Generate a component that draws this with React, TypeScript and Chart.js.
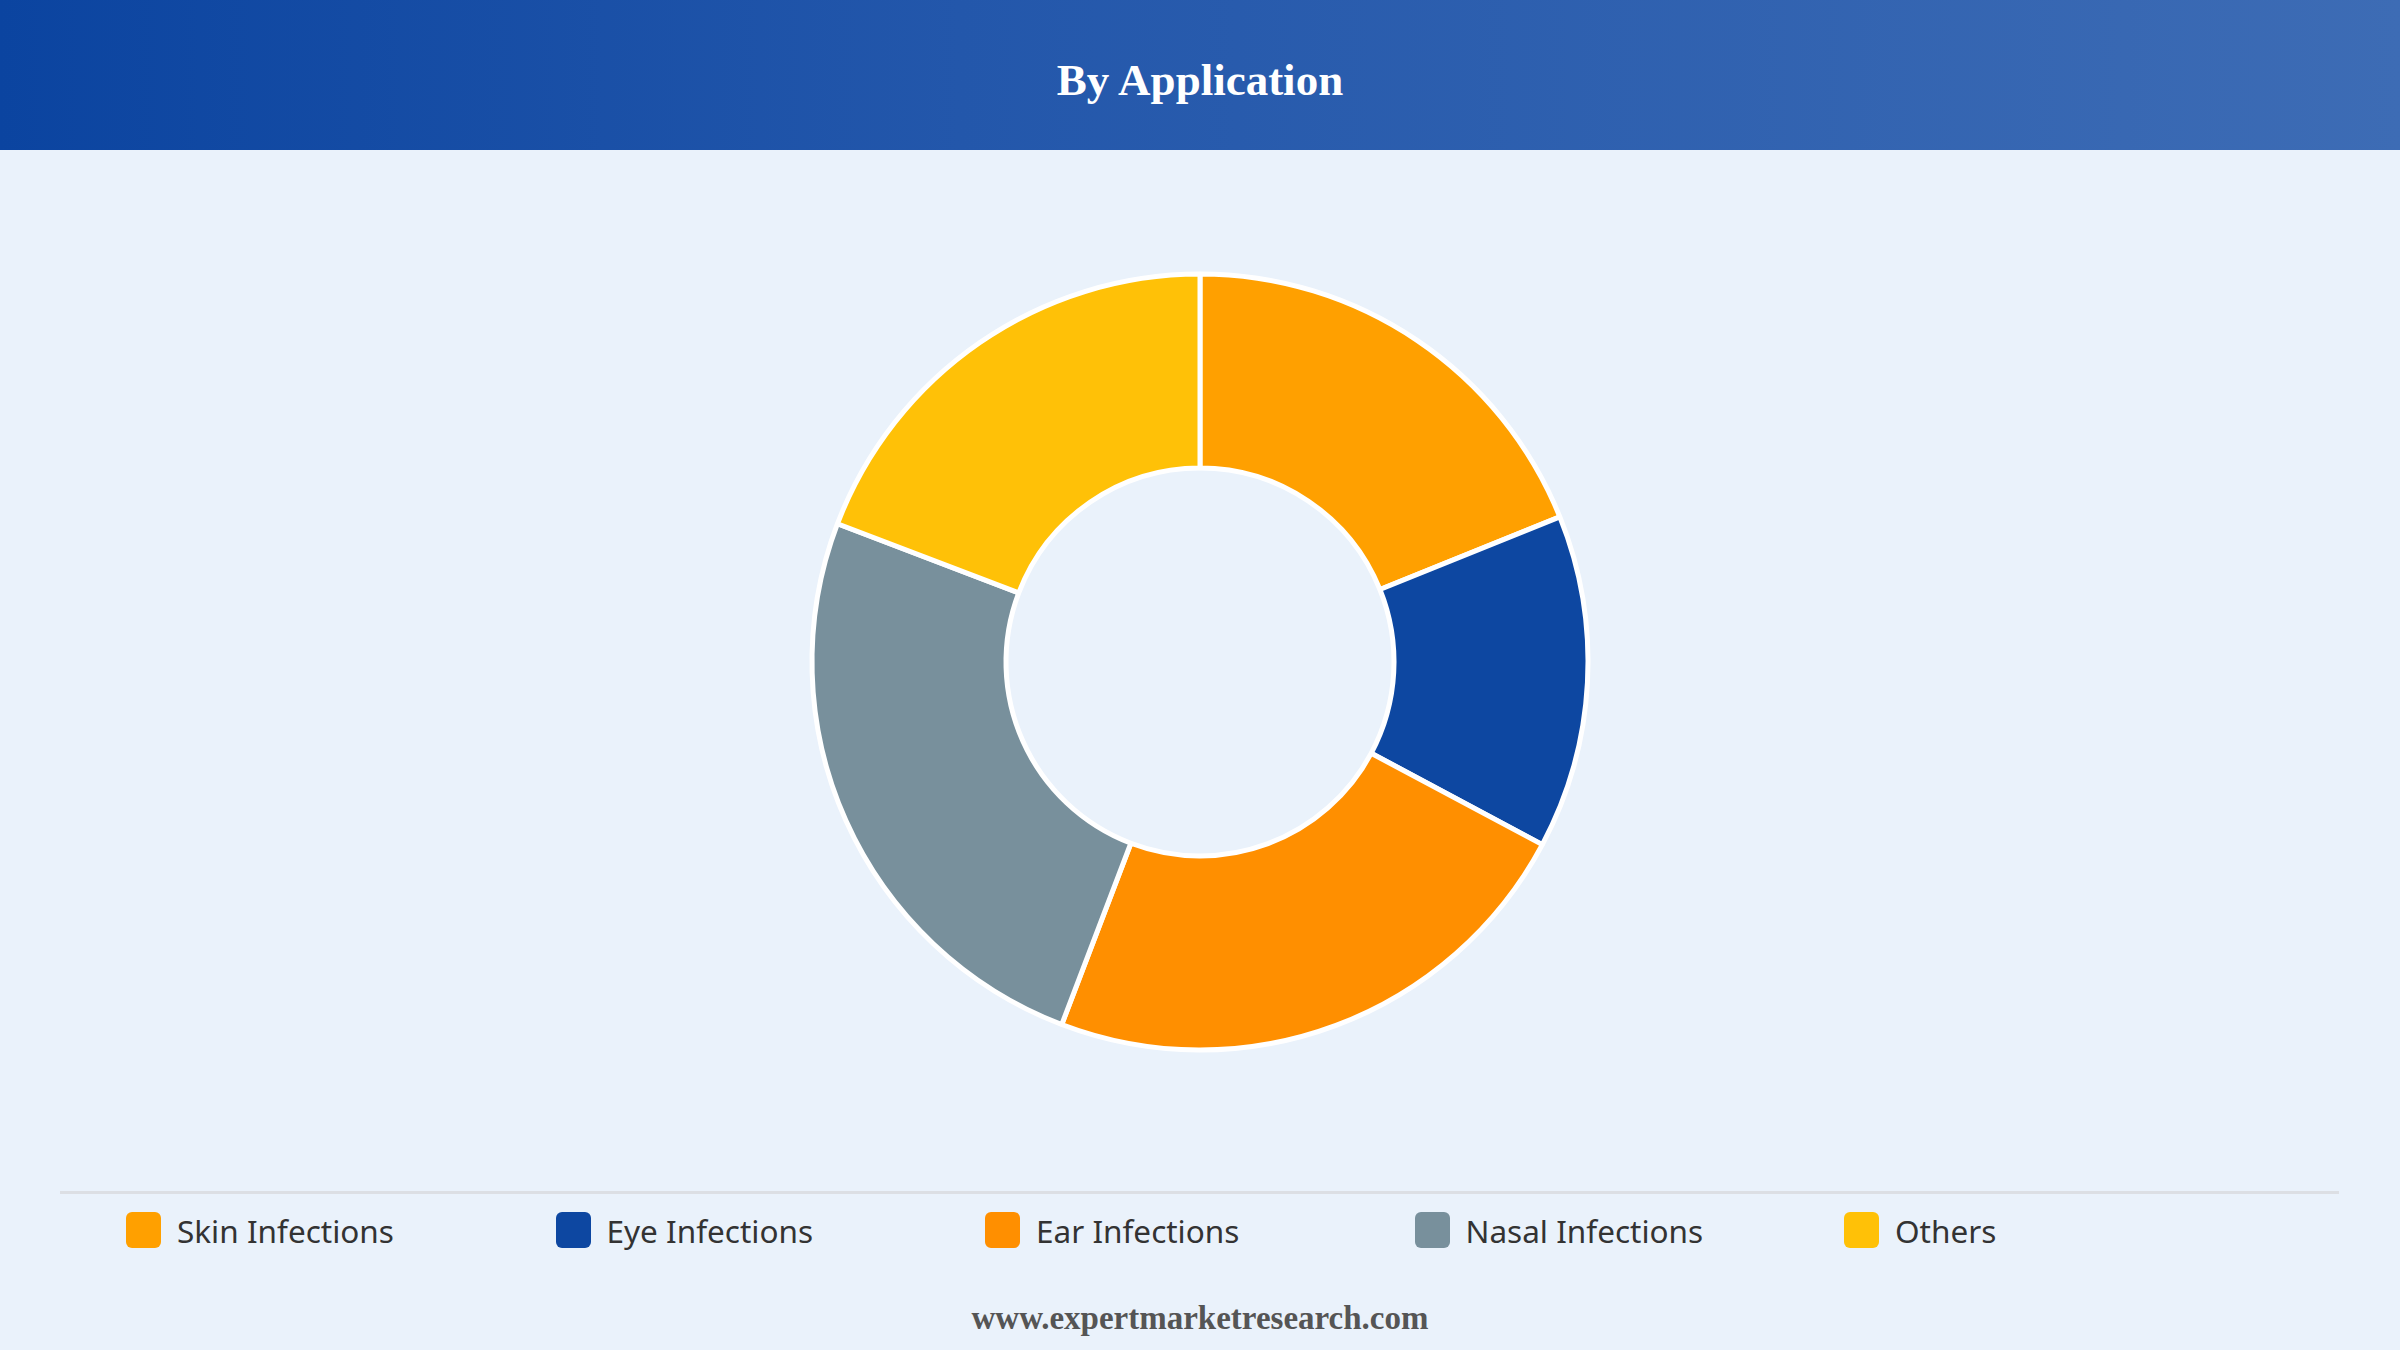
import React, { useEffect, useRef } from "react";
import { Chart, registerables } from "chart.js";

Chart.register(...registerables);

const title = "By Application";
const categories = ["Skin Infections", "Eye Infections", "Ear Infections", "Nasal Infections", "Others"];
const shares = [18.9, 13.9, 23, 25, 19.2];
const colors = ["#FFA000", "#0D47A1", "#FF8F00", "#78909C", "#FFC107"];
const footer = "www.expertmarketresearch.com";

export default function App() {
  const ref = useRef<HTMLCanvasElement | null>(null);

  useEffect(() => {
    document.body.style.margin = "0";
    document.body.style.background = "#EAF2FB";
    const canvas = ref.current;
    if (!canvas) return;
    const chart = new Chart(canvas, {
      type: "doughnut",
      data: {
        labels: categories,
        datasets: [
          {
            data: shares,
            backgroundColor: colors,
            borderColor: "#FFFFFF",
            borderWidth: 5,
          },
        ],
      },
      options: {
        responsive: false,
        animation: false,
        cutout: "50%",
        radius: 388,
        layout: { padding: 0 },
        plugins: {
          legend: { display: false },
          tooltip: { enabled: false },
        },
      },
    });
    return () => chart.destroy();
  }, []);

  return (
    <div style={{ position: "relative", width: 2400, height: 1350, background: "#EAF2FB", overflow: "hidden" }}>
      <div
        style={{
          position: "absolute",
          left: 0,
          top: 0,
          width: 2400,
          height: 150,
          background: "linear-gradient(90deg, #0B44A0 0%, #2357AB 40%, #3D6CB5 100%)",
          display: "flex",
          alignItems: "center",
          justifyContent: "center",
          paddingTop: 10,
          boxSizing: "border-box",
        }}
      >
        <span style={{ color: "#FFFFFF", fontFamily: "'Liberation Serif', 'Times New Roman', serif", fontWeight: 700, fontSize: 45 }}>
          {title}
        </span>
      </div>
      <canvas ref={ref} width={2400} height={1024} style={{ position: "absolute", left: 0, top: 150, width: 2400, height: 1024 }} />
      <div style={{ position: "absolute", left: 60, top: 1191, width: 2279, height: 3, background: "#DCDFE4" }} />
      {categories.map((c, i) => (
        <div
          key={c}
          style={{
            position: "absolute",
            left: 126 + i * 429.5,
            top: 1212,
            height: 36,
            display: "flex",
            alignItems: "center",
          }}
        >
          <div style={{ width: 35, height: 36, borderRadius: 6, background: colors[i] }} />
          <span
            style={{
              marginLeft: 16,
              fontFamily: "'Noto Sans', 'Open Sans', sans-serif",
              fontSize: 31.5,
              color: "#333333",
              whiteSpace: "nowrap",
            }}
          >
            {c}
          </span>
        </div>
      ))}
      <div
        style={{
          position: "absolute",
          left: 0,
          top: 1300,
          width: 2400,
          textAlign: "center",
          fontFamily: "'Liberation Serif', 'Times New Roman', serif",
          fontWeight: 700,
          fontSize: 33,
          color: "#555555",
        }}
      >
        {footer}
      </div>
    </div>
  );
}
